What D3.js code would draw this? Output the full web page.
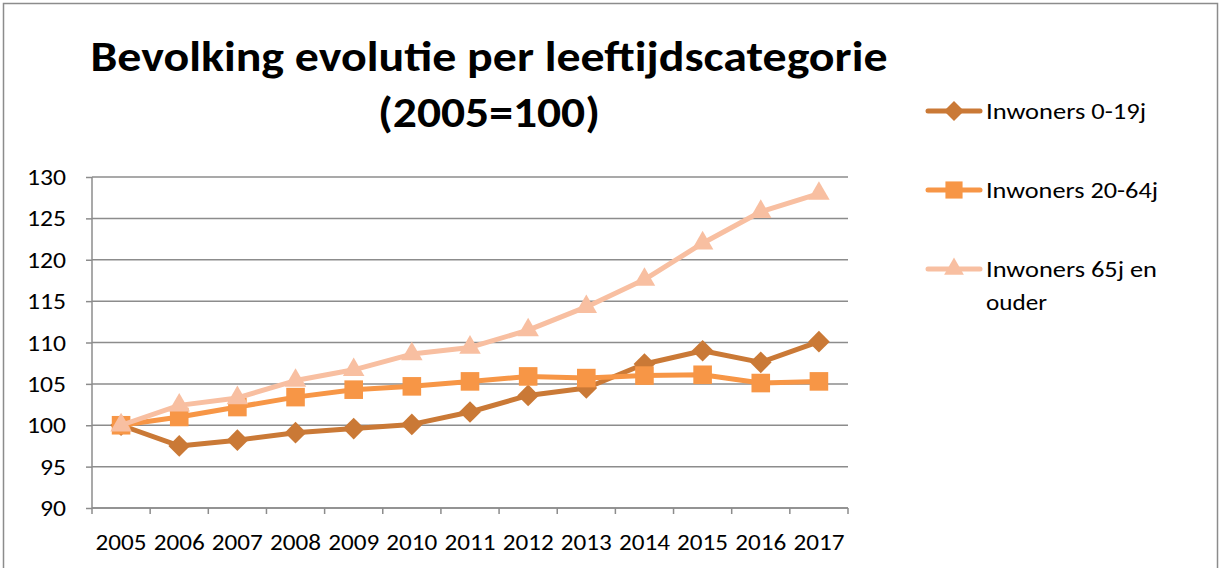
<!DOCTYPE html>
<html>
<head>
<meta charset="utf-8">
<script src="https://cdn.jsdelivr.net/npm/d3@7"></script>
<style>
  body { margin: 0; background: #fff; }
  text { font-family: Carlito, Calibri, "Open Sans", "Liberation Sans", sans-serif; fill: #000; }
</style>
</head>
<body>
<script>
const years = ['2005', '2006', '2007', '2008', '2009', '2010', '2011', '2012', '2013', '2014', '2015', '2016', '2017'];
const jong = [100, 97.5, 98.2, 99.1, 99.6, 100.1, 101.6, 103.6, 104.5, 107.4, 109.0, 107.6, 110.1];
const actief = [100, 101.0, 102.2, 103.4, 104.3, 104.7, 105.3, 105.9, 105.7, 106.0, 106.1, 105.1, 105.3];
const ouder = [100, 102.4, 103.3, 105.4, 106.7, 108.6, 109.4, 111.5, 114.3, 117.6, 122.0, 125.8, 128.0];
const yTicks = [90, 95, 100, 105, 110, 115, 120, 125, 130];
const seriesNames = ['Inwoners 0-19j', 'Inwoners 20-64j', 'Inwoners 65j en ouder'];

const series = [
  { name: seriesNames[0], values: jong, color: '#CA7936', symbol: d3.symbolDiamond2, size: 300 },
  { name: seriesNames[1], values: actief, color: '#F79646', symbol: d3.symbolSquare2, size: 440 },
  { name: seriesNames[2], values: ouder, color: '#F8BFA1', symbol: d3.symbolTriangle2, size: 330 }
];

const W = 1223, H = 568;
const margin = { top: 177, left: 92 };
const width = 848 - margin.left;
const height = 508 - margin.top;

const svg = d3.select('body').append('svg')
  .attr('width', W)
  .attr('height', H);

// chart border
svg.append('rect')
  .attr('x', 3.5).attr('y', 3.5)
  .attr('width', 1214).attr('height', 620)
  .attr('fill', 'none')
  .attr('stroke', '#8c8c8c')
  .attr('stroke-width', 1.5);

const title = svg.append('text')
  .attr('text-anchor', 'middle')
  .style('font-weight', 'bold')
  .style('font-size', '42px');
title.append('tspan').attr('x', 489).attr('y', 71)
  .attr('textLength', 797).attr('lengthAdjust', 'spacingAndGlyphs')
  .text('Bevolking evolutie per leeftijdscategorie');
title.append('tspan').attr('x', 489).attr('y', 127)
  .attr('textLength', 222).attr('lengthAdjust', 'spacingAndGlyphs')
  .text('(2005=100)');

const g = svg.append('g')
  .attr('transform', `translate(${margin.left},${margin.top})`);

const x = d3.scaleBand().domain(years).range([0, width]);
const y = d3.scaleLinear().domain([90, 130]).range([height, 0]);

// gridlines
g.append('g')
  .selectAll('line')
  .data(yTicks)
  .join('line')
  .attr('x1', 0).attr('x2', width)
  .attr('y1', d => y(d)).attr('y2', d => y(d))
  .attr('stroke', '#8c8c8c')
  .attr('stroke-width', 1.5);

// y axis
const yAxis = g.append('g')
  .call(d3.axisLeft(y).tickValues(yTicks).tickSize(6).tickPadding(8));
yAxis.selectAll('path, line').attr('stroke', '#8c8c8c').attr('stroke-width', 1.5);
yAxis.select('.domain').attr('d', `M0,${height}V0`);
yAxis.selectAll('text')
  .style('font-size', '23px')
  .attr('dy', '0.33em')
  .attr('x', -26)
  .attr('textLength', d => String(d).length * 13)
  .attr('lengthAdjust', 'spacingAndGlyphs');

// x axis with ticks between categories
const xAxis = g.append('g')
  .attr('transform', `translate(0,${height})`);
xAxis.append('line')
  .attr('x1', 0).attr('x2', width)
  .attr('stroke', '#8c8c8c').attr('stroke-width', 1.5);
xAxis.selectAll('.tick')
  .data(years.concat(['end']))
  .join('line')
  .attr('class', 'tick')
  .attr('x1', (d, i) => i * x.bandwidth()).attr('x2', (d, i) => i * x.bandwidth())
  .attr('y1', 0).attr('y2', 6)
  .attr('stroke', '#8c8c8c').attr('stroke-width', 1.5);
xAxis.selectAll('text')
  .data(years)
  .join('text')
  .attr('x', d => x(d) + x.bandwidth() / 2)
  .attr('y', 42)
  .attr('text-anchor', 'middle')
  .attr('textLength', 51)
  .attr('lengthAdjust', 'spacingAndGlyphs')
  .style('font-size', '23px')
  .text(d => d);

const line = d3.line()
  .x((d, i) => x(years[i]) + x.bandwidth() / 2)
  .y(d => y(d));

series.forEach(s => {
  g.append('path')
    .attr('d', line(s.values))
    .attr('fill', 'none')
    .attr('stroke', s.color)
    .attr('stroke-width', 5)
    .attr('stroke-linejoin', 'round');
  g.append('g')
    .selectAll('path')
    .data(s.values)
    .join('path')
    .attr('transform', (d, i) => `translate(${x(years[i]) + x.bandwidth() / 2},${y(d)})`)
    .attr('d', d3.symbol().type(s.symbol).size(s.size))
    .attr('fill', s.color);
});

// legend
const legend = svg.append('g').attr('transform', 'translate(926,0)');
const legendY = [111, 190, 269];
const legendWidths = [160, 172, 171];
series.forEach((s, i) => {
  const row = legend.append('g').attr('transform', `translate(0,${legendY[i]})`);
  row.append('line')
    .attr('x1', 2).attr('x2', 54)
    .attr('stroke', s.color).attr('stroke-width', 5).attr('stroke-linecap', 'round');
  row.append('path')
    .attr('transform', 'translate(28,0)')
    .attr('d', d3.symbol().type(s.symbol).size(s.size * 0.85))
    .attr('fill', s.color);
  const label = row.append('text')
    .style('font-size', '23px');
  if (i === 2) {
    label.append('tspan').attr('x', 60).attr('y', 8)
      .attr('textLength', legendWidths[i]).attr('lengthAdjust', 'spacingAndGlyphs')
      .text('Inwoners 65j en');
    label.append('tspan').attr('x', 60).attr('y', 41)
      .attr('textLength', 61).attr('lengthAdjust', 'spacingAndGlyphs')
      .text('ouder');
  } else {
    label.attr('x', 60).attr('y', 8)
      .attr('textLength', legendWidths[i]).attr('lengthAdjust', 'spacingAndGlyphs')
      .text(s.name);
  }
});
</script>
</body>
</html>
